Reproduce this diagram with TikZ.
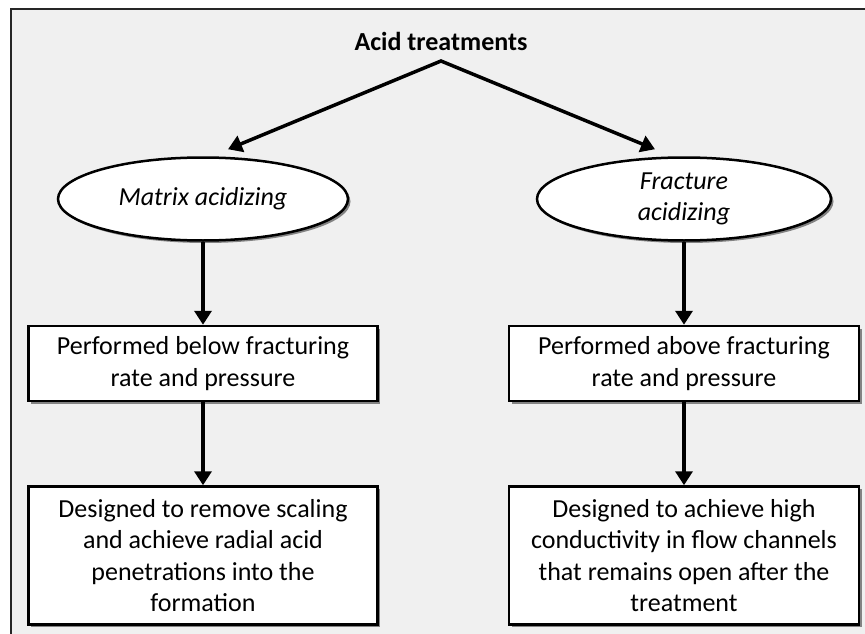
\documentclass[tikz,border=0pt]{standalone}
\usepackage{fontspec}
\setmainfont{Carlito}
\usetikzlibrary{arrows.meta, positioning, shapes.geometric, shadows}

\begin{document}
\begin{tikzpicture}[
    x=1pt, y=-1pt,
    font=\fontsize{26}{31.5}\selectfont,
    node distance=83pt,
    shad/.style={drop shadow={shadow xshift=2.5pt, shadow yshift=-2.5pt,
                 opacity=0.45, fill=black}},
    oval/.style={ellipse, draw=black, line width=2.5pt, fill=white, shad,
                 minimum width=290pt, minimum height=83pt, inner sep=0pt,
                 align=center, font=\fontsize{26}{31.5}\selectfont\itshape},
    tbox/.style={rectangle, draw=black, line width=2.5pt, fill=white, shad,
                 minimum width=349pt, inner sep=4pt, align=center},
    arr/.style={-{Triangle[length=14pt, width=17pt]}, line width=3.5pt},
    biarr/.style={{Triangle[length=14pt, width=17pt]}-{Triangle[length=14pt, width=17pt]},
                  line width=3.5pt, line join=miter},
  ]
    % frame
    \useasboundingbox (0,0) rectangle (865,634);
    \begin{scope}
      \clip (0,0) rectangle (865,634);
      \fill[white] (0,0) rectangle (865,634);
      \draw[line width=1.5pt, draw=black!85, fill=black!6] (11,9) rectangle (900,700);
    \end{scope}

    \node[font=\fontsize{26}{31.5}\selectfont\bfseries] (title) at (441,41) {Acid treatments};
    \coordinate (apex) at (441,61);

    \node[oval] (matrix) at (203,199) {Matrix acidizing};
    \node[oval, minimum width=294pt] (fracture) at (684,199) {Fracture\\acidizing};

    \node[tbox, minimum height=75pt, below=of matrix] (matrixrate)
        {Performed below fracturing\\rate and pressure};
    \node[tbox, minimum height=138pt, below=of matrixrate] (matrixaim)
        {Designed to remove scaling\\and achieve radial acid\\penetrations into the\\formation};

    \node[tbox, minimum width=350pt, minimum height=75pt, below=of fracture] (fracturerate)
        {Performed above fracturing\\rate and pressure};
    \node[tbox, minimum width=350pt, minimum height=138pt, below=of fracturerate] (fractureaim)
        {Designed to achieve high\\conductivity in flow channels\\that remains open after the\\treatment};

    % split
    \draw[biarr] ([xshift=25pt, yshift=7pt]matrix.north) -- (apex)
                 -- ([xshift=-29pt, yshift=7pt]fracture.north);

    % columns
    \draw[arr] (matrix) -- (matrixrate);
    \draw[arr] (matrixrate) -- (matrixaim);
    \draw[arr] (fracture) -- (fracturerate);
    \draw[arr] (fracturerate) -- (fractureaim);
\end{tikzpicture}
\end{document}
